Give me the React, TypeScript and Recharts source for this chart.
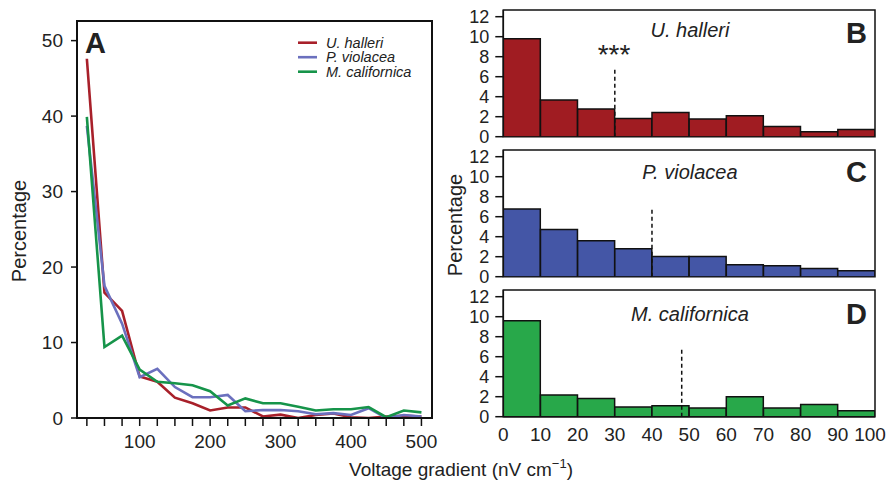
import React from "react";
import { LineChart, Line, BarChart, Bar, XAxis, YAxis, ReferenceLine, ReferenceArea } from "recharts";

// panel A: percentage per 25 nV/cm step
const gradient = [25, 50, 75, 100, 125, 150, 175, 200, 225, 250, 275, 300, 325, 350, 375, 400, 425, 450, 475, 500];
const uHalleriA = [47.6, 16.6, 14.2, 5.5, 4.8, 2.7, 1.95, 1.0, 1.4, 1.4, 0.2, 0.45, 0, 0.4, 0.6, 0.1, 0, 0.2, 0.3, 0.2];
const pViolaceaA = [38.7, 17.5, 12.5, 5.4, 6.5, 4.1, 2.75, 2.75, 3.05, 0.9, 1.05, 1.05, 0.9, 0.5, 0.65, 0.4, 1.3, 0, 0.4, 0.2];
const mCalifornicaA = [39.9, 9.4, 10.9, 6.4, 4.8, 4.6, 4.35, 3.55, 1.65, 2.6, 1.95, 1.95, 1.5, 1.0, 1.15, 1.15, 1.45, 0.1, 1.0, 0.75];
const gradientTicks = [25, 50, 75, 100, 125, 150, 175, 200, 225, 250, 275, 300, 325, 350, 375, 400, 425, 450, 475, 500];
const pctTicksA = [0, 10, 20, 30, 40, 50];

// panels B-D: histograms 0-100 nV/cm in 10-wide bins (bin centres)
const binMids = [5, 15, 25, 35, 45, 55, 65, 75, 85, 95];
const uHalleriHist = [9.8, 3.67, 2.77, 1.83, 2.43, 1.77, 2.1, 1.03, 0.5, 0.73];
const pViolaceaHist = [6.77, 4.73, 3.6, 2.8, 2.03, 2.03, 1.2, 1.1, 0.83, 0.6];
const mCalifornicaHist = [9.6, 2.17, 1.83, 0.97, 1.1, 0.87, 2.0, 0.87, 1.23, 0.6];
const medians = [30, 40, 48];
const medianTop = 6.8;
const pctTicksHist = [0, 2, 4, 6, 8, 10, 12];
const gradTicksHist = [0, 10, 20, 30, 40, 50, 60, 70, 80, 90, 100];

const species = [
  { key: "uh", name: "U. halleri", line: "#A8202A", bar: "#A01C22", letter: "B" },
  { key: "pv", name: "P. violacea", line: "#6B70BE", bar: "#4456A6", letter: "C" },
  { key: "mc", name: "M. californica", line: "#16944A", bar: "#28A84A", letter: "D" },
];

const lineData = gradient.map((g, i) => ({
  g,
  uh: uHalleriA[i],
  pv: pViolaceaA[i],
  mc: mCalifornicaA[i],
}));

const hists = [uHalleriHist, pViolaceaHist, mCalifornicaHist];

const FONT = "'Liberation Sans', Arial, sans-serif";
const tickStyle = { fontSize: 19, fill: "#222", fontFamily: FONT };

// x tick for the histogram axis; last label pulled in a bit like the original
const HistTick = (props: any) => {
  const { x, y, payload } = props;
  return (
    <text x={payload.value === 100 ? x - 5 : x} y={y} dy="0.71em" textAnchor="middle" fontSize={19} fill="#222" fontFamily={FONT}>
      {payload.value}
    </text>
  );
};

const HistPanel = ({ idx, showAxis }: { idx: number; showAxis: boolean }) => {
  const data = binMids.map((m, i) => ({ mid: m, pct: hists[idx][i] }));
  const h = showAxis ? 202 : 140;
  return (
    <BarChart
      width={454}
      height={h}
      data={data}
      barCategoryGap={0}
      barGap={0}
      margin={{ top: 10, right: 19, left: 0, bottom: showAxis ? 35.3 : 3.3 }}
    >
      <ReferenceArea x1={0} x2={100} y1={0} y2={12.67} fill="none" stroke="#111" strokeWidth={1.5} ifOverflow="visible" />
      <XAxis
        dataKey="mid"
        type="number"
        domain={[0, 100]}
        allowDataOverflow
        ticks={gradTicksHist}
        hide={!showAxis}
        height={30}
        tickLine={false}
        tickSize={0}
        tickMargin={11}
        tick={<HistTick />}
        stroke="#111"
        strokeWidth={1.5}
        interval={0}
      />
      <YAxis
        domain={[0, 12.67]}
        ticks={pctTicksHist}
        allowDataOverflow
        width={63.3}
        tickSize={8}
        tickMargin={6}
        tick={{ ...tickStyle, fontSize: 18 }}
        stroke="#111"
        strokeWidth={1.5}
        interval={0}
      />
      <Bar dataKey="pct" fill={species[idx].bar} stroke="#111" strokeWidth={1.5} isAnimationActive={false} />
      <ReferenceLine
        segment={[
          { x: medians[idx], y: 0 },
          { x: medians[idx], y: medianTop },
        ]}
        stroke="#111"
        strokeWidth={1.5}
        strokeDasharray="4 3"
      />
    </BarChart>
  );
};

export default function App() {
  return (
    <div style={{ position: "absolute", left: 0, top: 0, width: 894, height: 482, background: "#fff", fontFamily: FONT }}>
      <style>{".recharts-surface{overflow:visible}"}</style>
      <div style={{ position: "absolute", left: 0, top: 0 }}>
        <LineChart width={440} height={482} data={lineData} margin={{ top: 21, right: 8, left: 0, bottom: 34 }}>
          <XAxis
            dataKey="g"
            type="number"
            domain={[11, 515]}
            allowDataOverflow
            ticks={gradientTicks}
            interval={0}
            tickFormatter={(v: number) => (v % 100 === 0 ? String(v) : "")}
            height={30}
            tickSize={8}
            tickMargin={9}
            tick={tickStyle}
            stroke="#111"
            strokeWidth={1.5}
          />
          <YAxis
            domain={[0, 52.6]}
            allowDataOverflow
            ticks={pctTicksA}
            interval={0}
            width={77}
            tickSize={6}
            tickMargin={8}
            tick={tickStyle}
            stroke="#111"
            strokeWidth={1.5}
          />
          {species.map((s) => (
            <Line
              key={s.key}
              dataKey={s.key}
              type="linear"
              stroke={s.line}
              strokeWidth={2.6}
              dot={false}
              isAnimationActive={false}
            />
          ))}
        </LineChart>
      </div>
      {species.map((s, i) => (
        <div key={s.key} style={{ position: "absolute", left: 440, top: i * 140 }}>
          <HistPanel idx={i} showAxis={i === 2} />
        </div>
      ))}
      <svg width={894} height={482} style={{ position: "absolute", left: 0, top: 0, pointerEvents: "none" }} fontFamily={FONT}>
        {/* panel A frame (same edges as the plot area) */}
        <rect x={77} y={21} width={355} height={397} fill="none" stroke="#111" strokeWidth={2} />
        <text x={85} y={52.7} fontSize={29} fontWeight="bold" fill="#222">A</text>
        {species.map((s, i) => (
          <g key={s.key}>
            <line x1={298} x2={317} y1={42.7 + i * 14.5} y2={42.7 + i * 14.5} stroke={s.line} strokeWidth={2.6} />
            <text x={326} y={47.8 + i * 14.5} fontSize={14.5} fontStyle="italic" fill="#222">{s.name}</text>
          </g>
        ))}
        {species.map((s, i) => (
          <g key={s.key + "t"}>
            <text x={867} y={[43, 182, 323.7][i]} fontSize={29} fontWeight="bold" textAnchor="end" fill="#222">{s.letter}</text>
            <text x={690} y={[37.2, 179, 320.5][i]} fontSize={20} fontStyle="italic" textAnchor="middle" fill="#222">{s.name}</text>
          </g>
        ))}
        <text x={614} y={64.3} fontSize={28} textAnchor="middle" fill="#222">***</text>
        <text transform="translate(19.3,231) rotate(-90)" fontSize={20} textAnchor="middle" dominantBaseline="central" fill="#222">Percentage</text>
        <text transform="translate(455,225) rotate(-90)" fontSize={20} textAnchor="middle" dominantBaseline="central" fill="#222">Percentage</text>
        <text x={461} y={476} fontSize={19} textAnchor="middle" fill="#222">
          Voltage gradient (nV cm<tspan fontSize={13} dy={-8}>−1</tspan><tspan dy={8}>)</tspan>
        </text>
      </svg>
    </div>
  );
}
